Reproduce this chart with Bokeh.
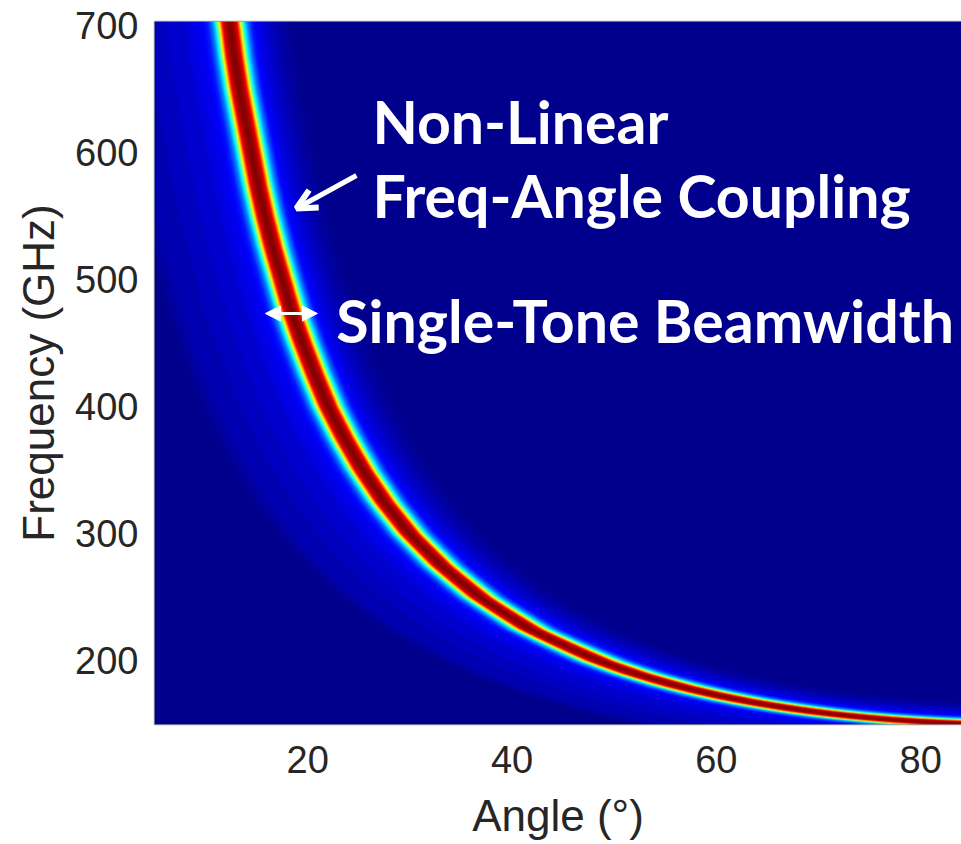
import numpy as np
from bokeh.plotting import figure
from bokeh.models import Range1d, LinearColorMapper, FixedTicker, Label, Arrow, OpenHead, NormalHead
from bokeh.embed import file_html
from bokeh.resources import INLINE

# ---- data ----
# ridge (beam peak) angle at each frequency
ridge_freq_ghz = [150, 152, 155, 158, 160, 165, 170, 175, 180, 190, 200, 225, 250, 275, 300,
                  325, 350, 375, 400, 425, 450, 475, 500, 525, 550, 575, 600, 625, 650, 675, 700, 705]
ridge_angle_deg = [90.0, 80.7, 75.4, 71.7, 69.6, 65.4, 61.9, 59.0, 56.4, 52.1, 48.6, 41.8, 36.9, 33.1, 30.0,
                   27.5, 25.4, 23.6, 22.0, 20.7, 19.5, 18.4, 17.5, 16.6, 15.8, 15.1, 14.5, 13.9, 13.3, 12.8, 12.4, 12.3]
# half-width of the dark-red core, in sin(angle) units
core_halfwidth_sin = 0.0117
# normalised beam level across the ridge (offset in core half-widths -> colour level 0..1)
profile_offset = [-30, -18, -16, -14.5, -13, -11.5, -10, -8.5, -7, -5.5, -4.2, -3.2, -2.5, -2.0, -1.5,
                  -1.2, -1.0, -0.5, 0, 0.5, 1.0, 1.2, 1.5, 2.0, 2.5, 3.2, 4.2, 5.5, 7, 9, 30]
profile_level = [0.012, 0.012, 0.04, 0.055, 0.045, 0.065, 0.06, 0.08, 0.075, 0.1, 0.11, 0.15, 0.25, 0.38, 0.63,
                 0.8, 0.9, 0.97, 1.0, 0.97, 0.9, 0.8, 0.63, 0.38, 0.25, 0.14, 0.1, 0.07, 0.04, 0.012, 0.012]

x_ticks = [20, 40, 60, 80]
y_ticks = [200, 300, 400, 500, 600, 700]
x_lo, x_hi = 5, 84
y_lo, y_hi = 150, 703

# ---- jet colour map ----
def jet(n=256):
    cols = []
    for k in range(n):
        v = k / (n - 1)
        r = min(max(1.5 - abs(4 * v - 3), 0), 1)
        g = min(max(1.5 - abs(4 * v - 2), 0), 1)
        b = min(max(1.5 - abs(4 * v - 1), 0), 1)
        cols.append("#%02x%02x%02x" % (round(r * 255), round(g * 255), round(b * 255)))
    return cols

# ---- build the field from the read values ----
nx, ny = 807, 703
ang = x_lo + (np.arange(nx) + 0.5) * (x_hi - x_lo) / nx
fr = y_lo + (np.arange(ny) + 0.5) * (y_hi - y_lo) / ny
s_peak = np.interp(fr, ridge_freq_ghz, np.sin(np.radians(ridge_angle_deg)))
u = (np.sin(np.radians(ang))[None, :] - s_peak[:, None]) / core_halfwidth_sin
img = np.interp(u, profile_offset, profile_level).astype(np.float32)

p = figure(frame_width=807, frame_height=703, output_backend="svg", toolbar_location=None,
           x_range=Range1d(x_lo, x_hi), y_range=Range1d(y_lo, y_hi),
           min_border_left=154, min_border_right=0, min_border_top=21, min_border_bottom=120)
p.background_fill_color = "white"
p.border_fill_color = "white"
p.grid.visible = False
p.outline_line_color = "#9a9a9a"
p.outline_line_width = 1.5

mapper = LinearColorMapper(palette=jet(256), low=0, high=1)
p.image(image=[img], x=x_lo, y=y_lo, dw=x_hi - x_lo, dh=y_hi - y_lo, color_mapper=mapper)

for ax in (p.xaxis[0], p.yaxis[0]):
    ax.axis_line_color = None
    ax.major_tick_line_color = None
    ax.minor_tick_line_color = None
    ax.major_tick_in = 0
    ax.major_tick_out = 0
    ax.major_label_text_font = "Liberation Sans"
    ax.major_label_text_font_size = "38px"
    ax.major_label_text_color = "#262626"
    ax.axis_label_text_font = "Liberation Sans"
    ax.axis_label_text_font_size = "44px"
    ax.axis_label_text_font_style = "normal"
    ax.axis_label_text_color = "#262626"

p.xaxis.ticker = FixedTicker(ticks=x_ticks)
p.yaxis.ticker = FixedTicker(ticks=y_ticks)
p.xaxis.axis_label = "Angle (°)"
p.yaxis.axis_label = "Frequency (GHz)"
p.xaxis.major_label_standoff = 21
p.yaxis.major_label_standoff = 16
p.xaxis.axis_label_standoff = 15
p.yaxis.axis_label_standoff = 9

# ---- annotations ----
font = "Lato"
for txt, tx, ty in [("Non-Linear", 26.33, 624), ("Freq-Angle Coupling", 26.33, 566),
                    ("Single-Tone Beamwidth", 22.8, 468)]:
    p.add_layout(Label(x=tx, y=ty, text=txt, text_font=font, text_font_size="59px",
                       text_font_style="bold", text_color="white", text_baseline="alphabetic",
                       text_align="left"))

p.add_layout(Arrow(x_start=24.77, y_start=581.9, x_end=18.89, y_end=555.9,
                   line_color="white", line_width=5,
                   end=OpenHead(size=20, line_color="white", line_width=6)))
p.add_layout(Arrow(x_start=15.85, y_start=473.3, x_end=20.95, y_end=473.3,
                   line_color="white", line_width=3,
                   start=NormalHead(size=15, line_color="white", fill_color="white"),
                   end=NormalHead(size=15, line_color="white", fill_color="white")))

open("out.html", "w").write(file_html(p, INLINE))
